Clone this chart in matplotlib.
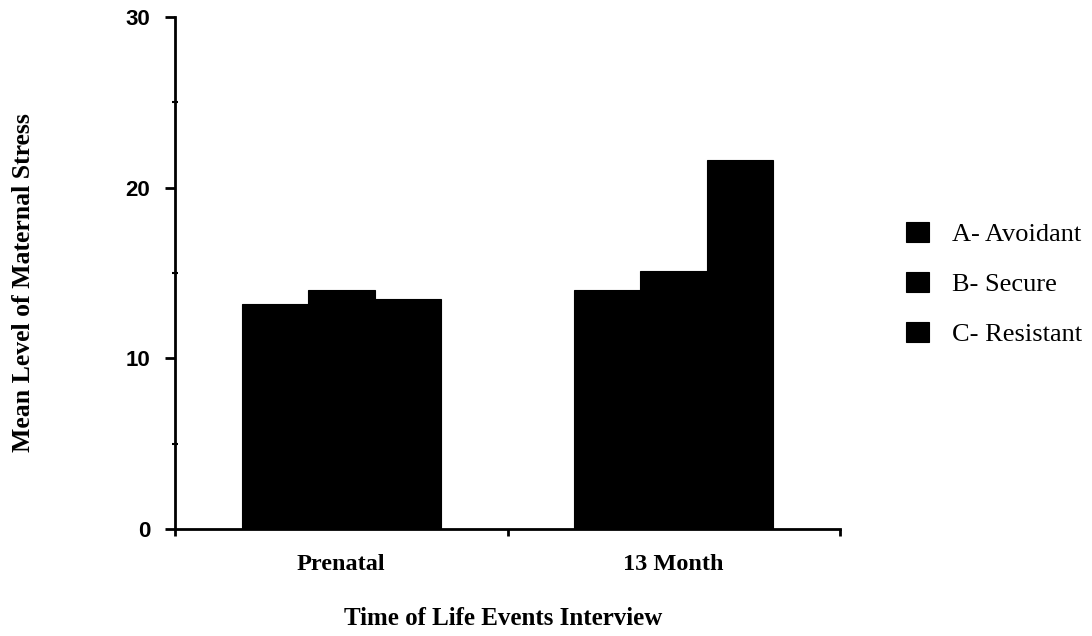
import matplotlib.pyplot as plt
import numpy as np

# values
groups = ['Prenatal', '13 Month']
series = ['A- Avoidant', 'B- Secure', 'C- Resistant']
avoidant = [13.2, 14.0]
secure = [14.0, 15.1]
resistant = [13.5, 21.6]
values = [avoidant, secure, resistant]

serif = 'Liberation Serif'
sans = 'Liberation Sans'

fig = plt.figure(figsize=(10.92, 6.36), dpi=100)
ax = fig.add_axes([175 / 1092, 1 - 529 / 636, 665 / 1092, 512 / 636])

centers = np.arange(len(groups)) + 0.5
width = 0.2
handles = []
for i, (name, vals) in enumerate(zip(series, values)):
    h = ax.bar(centers + (i - 1) * width, vals, width=width, color='black',
               edgecolor='black', linewidth=0.8, label=name)
    handles.append(h)

ax.set_xlim(0, 2)
ax.set_ylim(0, 30)
ax.spines['top'].set_visible(False)
ax.spines['right'].set_visible(False)
ax.spines['left'].set_linewidth(2)
ax.spines['bottom'].set_linewidth(2)

# y axis
ax.set_yticks([0, 10, 20, 30])
ax.set_yticks([5, 15, 25], minor=True)
ax.tick_params(axis='y', which='major', direction='out', length=7, width=2, pad=11)
ax.tick_params(axis='y', which='minor', direction='inout', length=4, width=1.5)
for lab in ax.get_yticklabels():
    lab.set_fontfamily(sans)
    lab.set_fontweight('bold')
    lab.set_fontsize(16)

# x axis: ticks at group borders, labels at group centres
ax.set_xticks([0, 1, 2])
ax.set_xticklabels([])
ax.set_xticks(centers, minor=True)
ax.set_xticklabels(groups, minor=True, fontfamily=serif, fontweight='bold', fontsize=17.5)
ax.tick_params(axis='x', which='major', direction='out', length=5, width=2)
ax.tick_params(axis='x', which='minor', length=0, pad=18)

ax.set_ylabel('Mean Level of Maternal Stress', fontfamily=serif, fontweight='bold', fontsize=18.5)
ax.yaxis.set_label_coords(-0.2105, 0.482)
ax.set_xlabel('Time of Life Events Interview', fontfamily=serif, fontweight='bold', fontsize=18)
ax.xaxis.set_label_coords(0.493, -0.152)

fig.legend(handles=handles, loc='upper left',
           bbox_to_anchor=(906 / 1092, 1 - 222 / 636), bbox_transform=fig.transFigure,
           frameon=False, borderpad=0, borderaxespad=0,
           handlelength=0.87, handleheight=0.76, handletextpad=0.87, labelspacing=0.99,
           prop={'family': serif, 'size': 19})

fig.savefig('out.png', dpi=100)
